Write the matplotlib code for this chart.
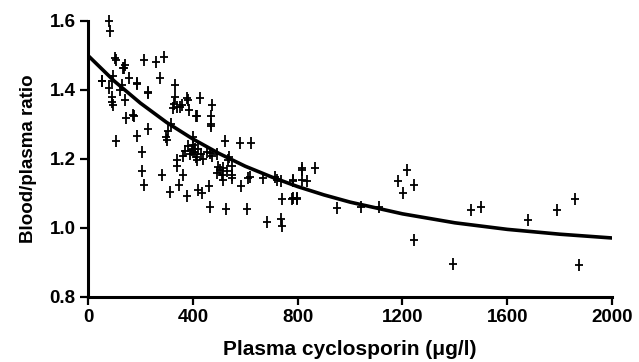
import matplotlib
matplotlib.use("Agg")
import matplotlib.pyplot as plt
from matplotlib.path import Path

# scatter points
plasma = [80, 84, 103, 106, 215, 260, 290, 139, 135, 141, 158, 275, 52, 55, 97, 90,
          186, 188, 81, 122, 129, 228, 230, 332, 332, 329, 338, 326, 360, 383, 351, 377,
          387, 92, 92, 94, 141, 144, 173, 177, 228, 186, 107, 205, 207, 212, 281, 317,
          306, 298, 303, 364, 372, 380, 390, 397, 408, 338, 338, 361, 349, 313, 377,
          412, 415, 427, 474, 468, 469, 469, 400, 523, 580, 622, 400, 405, 412, 420,
          430, 440, 415, 453, 466, 472, 491, 497, 504, 516, 535, 539, 548, 548, 548,
          492, 510, 530, 515, 618, 611, 668, 714, 722, 735, 783, 421, 434, 463, 583,
          466, 527, 606, 739, 777, 797, 682, 735, 739, 784, 815, 815, 815, 834, 866,
          781, 799, 949, 1041, 1112, 1216, 1181, 1201, 1242, 1242, 1461, 1499, 1678,
          1791, 1859, 1392, 1875]
ratio = [1.60, 1.57, 1.492, 1.487, 1.487, 1.48, 1.495, 1.463, 1.463, 1.473, 1.434, 1.434,
         1.425, 1.427, 1.44, 1.425, 1.42, 1.418, 1.405, 1.40, 1.415, 1.393, 1.39, 1.415,
         1.38, 1.36, 1.35, 1.347, 1.356, 1.37, 1.35, 1.377, 1.343, 1.38, 1.365, 1.356,
         1.37, 1.318, 1.328, 1.325, 1.286, 1.267, 1.253, 1.22, 1.165, 1.125, 1.154,
         1.30, 1.28, 1.265, 1.255, 1.21, 1.222, 1.237, 1.215, 1.225, 1.23, 1.197, 1.18,
         1.154, 1.125, 1.105, 1.093, 1.325, 1.325, 1.376, 1.357, 1.325, 1.30, 1.295,
         1.263, 1.253, 1.245, 1.245, 1.24, 1.22, 1.205, 1.23, 1.215, 1.20, 1.197, 1.22,
         1.217, 1.21, 1.215, 1.177, 1.168, 1.173, 1.197, 1.207, 1.18, 1.153, 1.145,
         1.16, 1.155, 1.165, 1.14, 1.149, 1.145, 1.145, 1.149, 1.14, 1.135, 1.135, 1.11,
         1.10, 1.122, 1.122, 1.062, 1.055, 1.055, 1.083, 1.083, 1.083, 1.018, 1.025,
         1.005, 1.14, 1.168, 1.14, 1.175, 1.135, 1.173, 1.086, 1.086, 1.057, 1.062, 1.06,
         1.168, 1.137, 1.102, 1.125, 0.965, 1.052, 1.06, 1.023, 1.052, 1.085, 0.896,
         0.893]

# fitted curve, read at regular steps along x
curve_x = [0, 100, 200, 300, 400, 500, 600, 700, 800, 900, 1000, 1200, 1400, 1600, 1800, 2000]
curve_y = [1.500, 1.426, 1.362, 1.306, 1.258, 1.216, 1.179, 1.148, 1.120, 1.096, 1.075,
           1.041, 1.015, 0.996, 0.982, 0.971]

xticks = [0, 400, 800, 1200, 1600, 2000]
yticks = [0.8, 1.0, 1.2, 1.4, 1.6]

plt.rcParams['font.family'] = ['Liberation Sans', 'DejaVu Sans']
plt.rcParams['font.weight'] = 'bold'

# cross with a longer vertical arm, like the printed marks
cross = Path([(-0.6, 0), (0.6, 0), (0, -1), (0, 1)],
             [Path.MOVETO, Path.LINETO, Path.MOVETO, Path.LINETO])

fig = plt.figure(figsize=(6.39, 3.62), dpi=100)
ax = fig.add_axes([0.1377, 0.1796, 0.8203, 0.7624])

ax.plot(plasma, ratio, linestyle='none', marker=cross, markersize=9, mew=1.3,
        color='black', clip_on=False)
ax.plot(curve_x, curve_y, color='black', lw=2.6, solid_capstyle='butt')

ax.set_xlim(0, 2000)
ax.set_ylim(0.8, 1.6)
ax.set_xticks(xticks)
ax.set_xticklabels([str(v) for v in xticks])
ax.set_yticks(yticks)
ax.set_yticklabels(['%.1f' % v for v in yticks])

for side in ['top', 'right']:
    ax.spines[side].set_visible(False)
for side in ['left', 'bottom']:
    ax.spines[side].set_linewidth(2.2)

ax.tick_params(axis='both', width=1.6, length=6, labelsize=13.5, direction='out')
ax.tick_params(axis='x', pad=3)
ax.tick_params(axis='y', pad=3)

ax.set_xlabel('Plasma cyclosporin (\u03bcg/l)', fontsize=15, fontweight='bold', labelpad=10)
ax.set_ylabel('Blood/plasma ratio', fontsize=13.5, fontweight='bold', labelpad=9)

fig.savefig('out.png', dpi=100)
